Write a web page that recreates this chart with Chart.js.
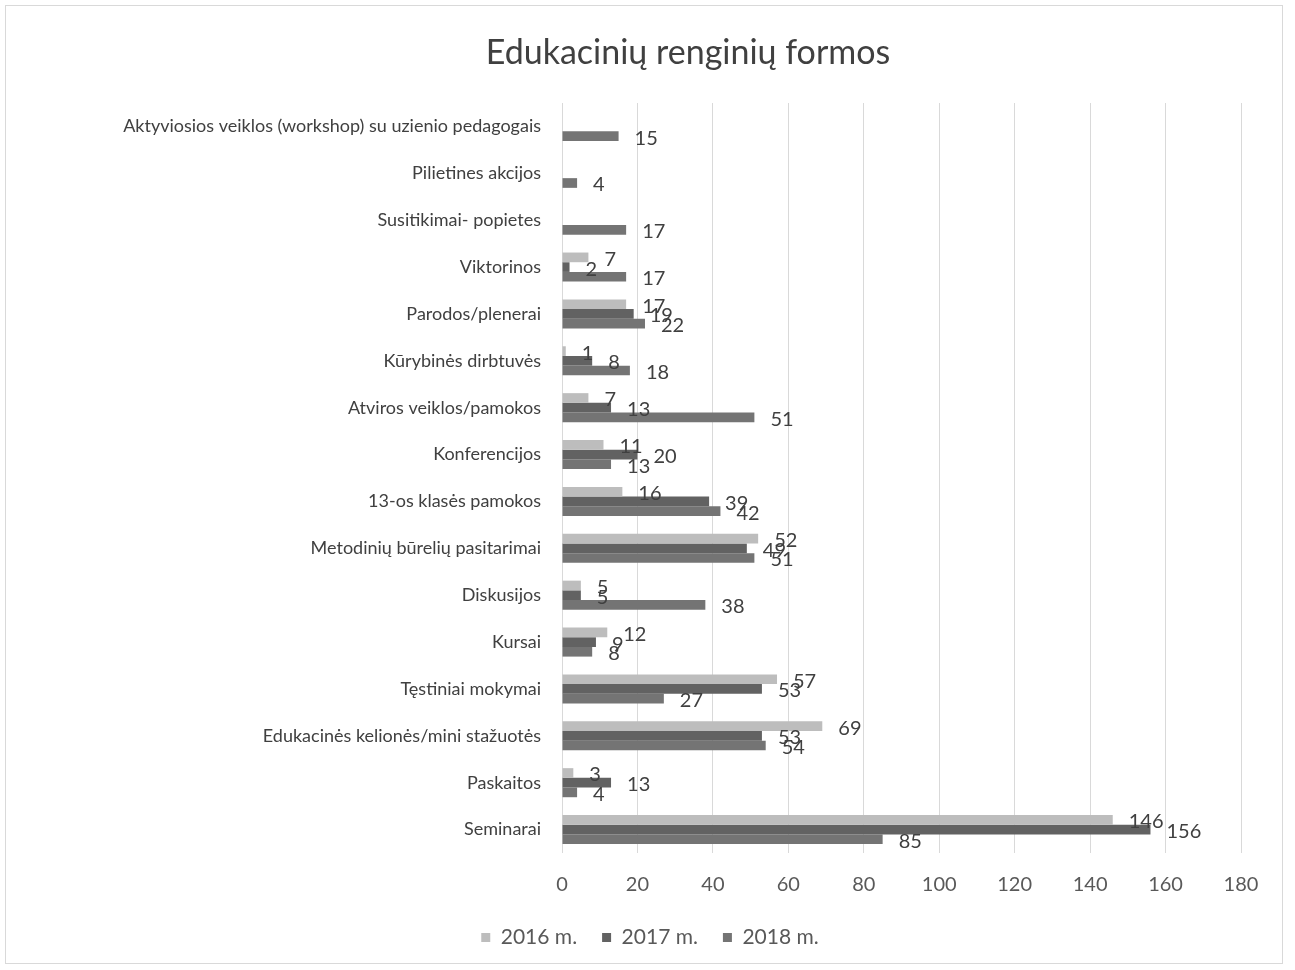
<!DOCTYPE html>
<html>
<head>
<meta charset="utf-8">
<script src="https://cdn.jsdelivr.net/npm/chart.js@4/dist/chart.umd.min.js"></script>
<style>
  html, body { margin: 0; padding: 0; background: #ffffff; }
  #wrap { position: relative; width: 1295px; height: 970px; }
</style>
</head>
<body>
<div id="wrap"><canvas id="c" width="1295" height="970"></canvas></div>
<script>
const chartTitle = "Edukacinių renginių formos";
const categories = [
  "Aktyviosios veiklos (workshop) su uzienio pedagogais",
  "Pilietines akcijos",
  "Susitikimai- popietes",
  "Viktorinos",
  "Parodos/plenerai",
  "Kūrybinės dirbtuvės",
  "Atviros veiklos/pamokos",
  "Konferencijos",
  "13-os klasės pamokos",
  "Metodinių būrelių pasitarimai",
  "Diskusijos",
  "Kursai",
  "Tęstiniai mokymai",
  "Edukacinės kelionės/mini stažuotės",
  "Paskaitos",
  "Seminarai"
];
const seriesNames = ["2016 m.", "2017 m.", "2018 m."];
const values2016 = [null, null, null, 7, 17, 1, 7, 11, 16, 52, 5, 12, 57, 69, 3, 146];
const values2017 = [null, null, null, 2, 19, 8, 13, 20, 39, 49, 5, 9, 53, 53, 13, 156];
const values2018 = [15, 4, 17, 17, 22, 18, 51, 13, 42, 51, 38, 8, 27, 54, 4, 85];
const xTicks = [0, 20, 40, 60, 80, 100, 120, 140, 160, 180];

const colors = ["#bdbdbd", "#626262", "#747474"];
const FONT = "Lato, 'Open Sans', sans-serif";

const frame = {
  id: 'frame',
  beforeDraw(chart) {
    const ctx = chart.ctx;
    ctx.save();
    ctx.fillStyle = '#ffffff';
    ctx.fillRect(0, 0, chart.width, chart.height);
    ctx.strokeStyle = '#d9d9d9';
    ctx.lineWidth = 1;
    ctx.strokeRect(5.5, 5.5, 1277, 958);
    // chart title
    ctx.font = "34px " + FONT;
    ctx.fillStyle = '#404040';
    ctx.textAlign = 'center';
    ctx.textBaseline = 'middle';
    ctx.fillText(chartTitle, 688, 53);
    ctx.restore();
  }
};

const dataLabels = {
  id: 'dataLabels',
  afterDatasetsDraw(chart) {
    const ctx = chart.ctx;
    ctx.save();
    ctx.font = "20px " + FONT;
    ctx.fillStyle = '#404040';
    ctx.textAlign = 'left';
    ctx.textBaseline = 'middle';
    chart.data.datasets.forEach((ds, i) => {
      const meta = chart.getDatasetMeta(i);
      meta.data.forEach((el, j) => {
        const v = ds.data[j];
        if (v === null || v === undefined) return;
        ctx.fillText(String(v), el.x + 16, el.y + 2);
      });
    });
    ctx.restore();
  }
};

new Chart(document.getElementById('c'), {
  type: 'bar',
  data: {
    labels: categories,
    datasets: [
      { label: seriesNames[0], data: values2016, backgroundColor: colors[0] },
      { label: seriesNames[1], data: values2017, backgroundColor: colors[1] },
      { label: seriesNames[2], data: values2018, backgroundColor: colors[2] }
    ]
  },
  options: {
    indexAxis: 'y',
    responsive: false,
    animation: false,
    devicePixelRatio: 1,
    datasets: { bar: { categoryPercentage: 0.62, barPercentage: 1.0 } },
    layout: { padding: { top: 103, right: 54, bottom: 12, left: 59 } },
    plugins: {
      title: { display: false },
      legend: {
        position: 'bottom',
        labels: {
          color: '#595959',
          font: { family: FONT, size: 21 },
          boxWidth: 9, boxHeight: 9,
          padding: 25
        }
      },
      tooltip: { enabled: false }
    },
    scales: {
      x: {
        min: 0, max: 180,
        afterBuildTicks(scale) { scale.ticks = xTicks.map(v => ({ value: v })); },
        afterFit(scale) { scale.height = 49; },
        ticks: { color: '#595959', font: { family: FONT, size: 20 }, padding: 20 },
        grid: { color: '#d9d9d9', drawTicks: false },
        border: { display: false }
      },
      y: {
        afterFit(scale) { scale.width = 503; },
        ticks: { color: '#404040', font: { family: FONT, size: 18 }, padding: 13, autoSkip: false },
        grid: { display: false },
        border: { display: false }
      }
    }
  },
  plugins: [frame, dataLabels]
});
</script>
</body>
</html>
